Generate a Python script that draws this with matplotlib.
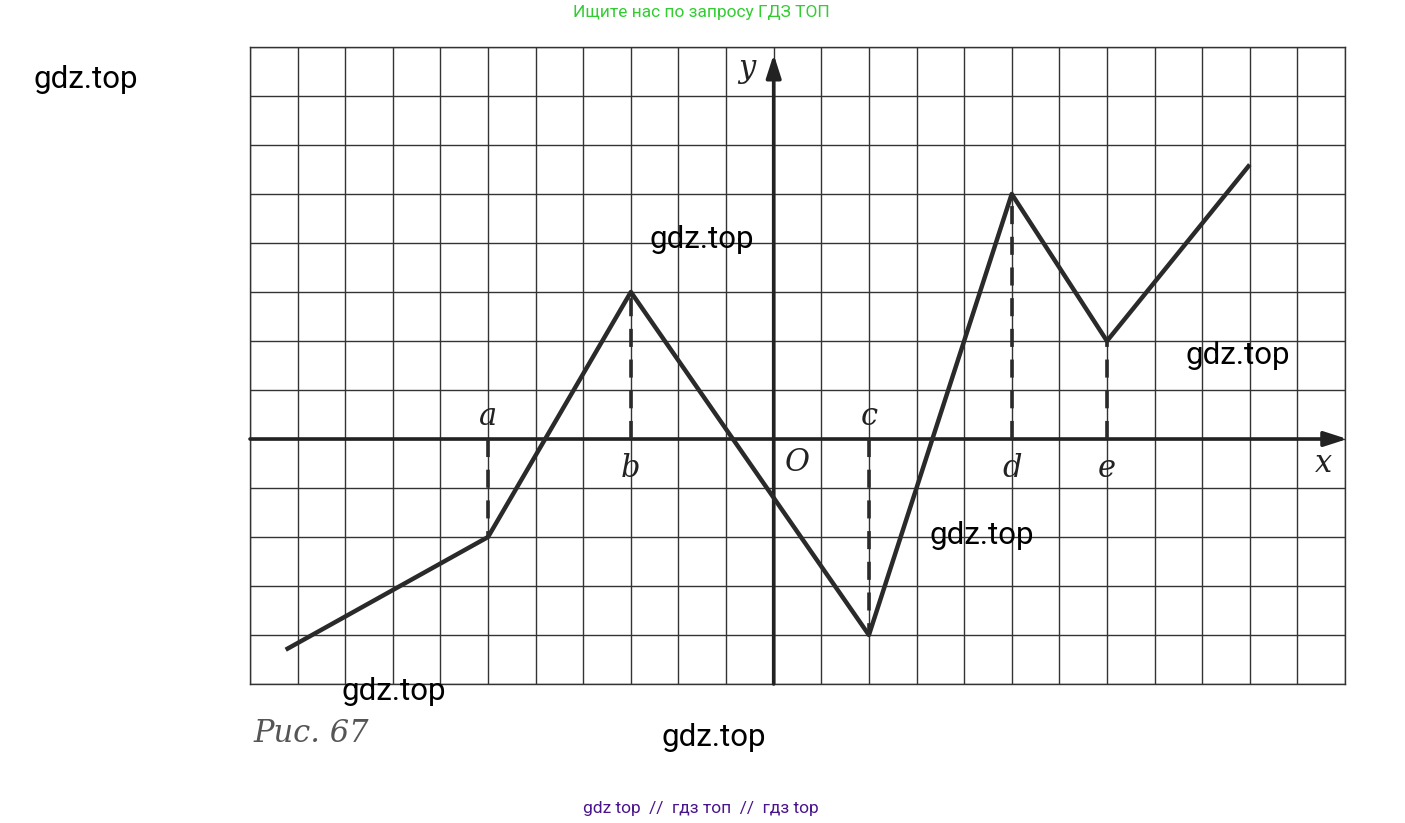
import matplotlib
matplotlib.use("Agg")
import matplotlib.pyplot as plt

# Data
poly_x = [-10.25, -6, -3, 2, 5, 7, 10]
poly_y = [-4.3, -2, 3, -4, 5, 2, 5.6]
mark_names = ["a", "b", "c", "d", "e"]
mark_x = [-6, -3, 2, 5, 7]
mark_y = [-2, 3, -4, 5, 2]
x_range = (-11, 12)
y_range = (-5, 8)

W, H = 1405, 823
fig = plt.figure(figsize=(W / 100, H / 100), dpi=100)
L, R, T, B = 250, 1345, 47, 684
ax = fig.add_axes([L / W, 1 - B / H, (R - L) / W, (B - T) / H])
ax.set_xlim(*x_range)
ax.set_ylim(*y_range)
ax.set_xticks(range(x_range[0], x_range[1] + 1))
ax.set_yticks(range(y_range[0], y_range[1] + 1))
ax.tick_params(length=0, labelbottom=False, labelleft=False)
ax.grid(True, color="#333333", linewidth=1.0)
for s in ax.spines.values():
    s.set_color("#333333")
    s.set_linewidth(1.0)

axcol = "#222222"
ax.annotate("", xy=(12.05, 0), xytext=(x_range[0], 0), annotation_clip=False,
            arrowprops=dict(arrowstyle="-|>,head_length=1.4,head_width=0.45",
                            color=axcol, lw=2.6, shrinkA=0, shrinkB=0))
ax.annotate("", xy=(0, 7.85), xytext=(0, y_range[0]), annotation_clip=False,
            arrowprops=dict(arrowstyle="-|>,head_length=1.4,head_width=0.45",
                            color=axcol, lw=2.6, shrinkA=0, shrinkB=0))

ax.plot(poly_x, poly_y, color="#2a2a2a", lw=3.2, solid_capstyle="butt", zorder=5)
for mx, my in zip(mark_x, mark_y):
    ax.plot([mx, mx], [0, my], color="#2a2a2a", lw=2.6, dashes=(5, 3.5), zorder=4)

lab_font = dict(family="DejaVu Serif", style="italic", fontsize=22, color="#222222",
                ha="center", va="center")
for name, mx, my in zip(mark_names, mark_x, mark_y):
    yy = 0.45 if my < 0 else -0.6
    ax.text(mx, yy, name, **lab_font)
ax.text(0.5, -0.47, "O", **lab_font)
ax.text(11.55, -0.5, "x", **lab_font)
ax.text(-0.57, 7.57, "y", **lab_font)

def ftext(px, py, s, **kw):
    fig.text(px / W, 1 - py / H, s, ha="center", va="center", **kw)

ftext(311, 733, "Рис. 67", family="DejaVu Serif", style="italic", fontsize=22, color="#555555")
for px, py in [(86, 79), (702, 240), (1238, 355), (982, 535), (394, 691), (714, 738)]:
    ftext(px, py, "gdz.top", family="Roboto", fontsize=22.5, color="black")
ftext(701, 12, "Ищите нас по запросу ГДЗ ТОП", family="Roboto", fontsize=12.5, color="#33cc33")
ftext(701, 808, "gdz top  //  гдз топ  //  гдз top", family="Roboto", fontsize=12.5, color="#4a148c")

fig.savefig("out.png", dpi=100)
